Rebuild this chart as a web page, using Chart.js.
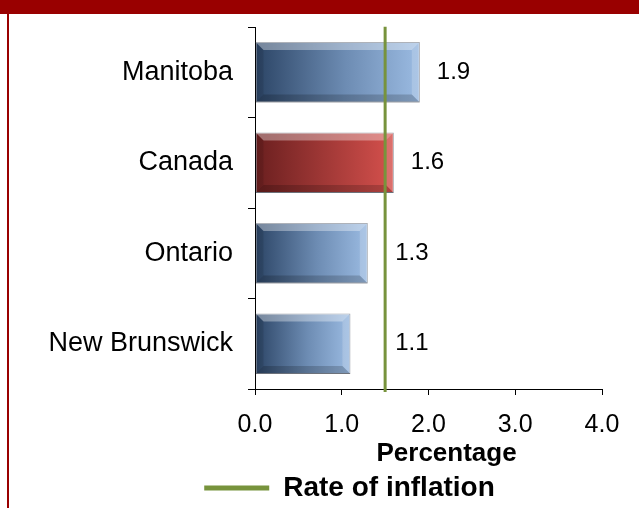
<!DOCTYPE html>
<html>
<head>
<meta charset="utf-8">
<script src="https://cdn.jsdelivr.net/npm/chart.js@4.4.0/dist/chart.umd.min.js"></script>
<style>
  html, body { margin: 0; padding: 0; background: #fff; }
  #wrap { position: relative; width: 639px; height: 508px; overflow: hidden; background: #fff; }
  #band { position: absolute; left: 0; top: 0; width: 639px; height: 14px; background: #990000; }
  #edge { position: absolute; left: 7px; top: 14px; width: 2px; height: 494px; background: #990000; }
  canvas { position: absolute; left: 0; top: 4px; }
</style>
</head>
<body>
<div id="wrap">
  <canvas id="myChart" width="639" height="508"></canvas>
  <div id="band"></div>
  <div id="edge"></div>
</div>
<script>
const provinces = ["Manitoba", "Canada", "Ontario", "New Brunswick"];
const increase = [1.9, 1.6, 1.3, 1.1];
const inflationRate = 1.5;
const xTicks = [0, 1, 2, 3, 4];
const highlight = "Canada";

Chart.defaults.font.family = "'Liberation Sans', Arial, sans-serif";
Chart.defaults.color = "#000";

// horizontal gradient from dark to light along each bar
function barFill(ctx) {
  const chart = ctx.chart;
  if (!chart.chartArea || ctx.type !== "data") return "#4f81bd";
  const xs = chart.scales.x;
  const x0 = xs.getPixelForValue(0);
  const x1 = xs.getPixelForValue(increase[ctx.dataIndex]);
  const g = chart.ctx.createLinearGradient(x0, 0, x1, 0);
  if (provinces[ctx.dataIndex] === highlight) {
    g.addColorStop(0, "#6a1f1f");
    g.addColorStop(1, "#d6514d");
  } else {
    g.addColorStop(0, "#2b4465");
    g.addColorStop(0.55, "#6d8cb3");
    g.addColorStop(1, "#9bbbe2");
  }
  return g;
}

const bevel = {
  id: "bevel",
  afterDatasetDraw(chart, args) {
    if (args.index !== 0) return;
    const c = chart.ctx;
    const b = 8;
    args.meta.data.forEach(el => {
      const { x, y, base, height } = el.getProps(["x", "y", "base", "height"], true);
      const l = base, r = x, t = y - height / 2, btm = y + height / 2;
      const poly = (pts, fill) => {
        c.beginPath();
        c.moveTo(pts[0][0], pts[0][1]);
        pts.slice(1).forEach(p => c.lineTo(p[0], p[1]));
        c.closePath();
        c.fillStyle = fill;
        c.fill();
      };
      c.save();
      poly([[l, t], [r, t], [r - b, t + b], [l + b, t + b]], "rgba(255,255,255,0.35)");
      poly([[r, t], [r, btm], [r - b, btm - b], [r - b, t + b]], "rgba(255,255,255,0.18)");
      poly([[l, btm], [r, btm], [r - b, btm - b], [l + b, btm - b]], "rgba(0,0,0,0.18)");
      poly([[l, t], [l + b, t + b], [l + b, btm - b], [l, btm]], "rgba(0,0,0,0.10)");
      c.restore();
    });
  }
};

const valueLabels = {
  id: "valueLabels",
  afterDatasetsDraw(chart) {
    const c = chart.ctx;
    const lineX = chart.scales.x.getPixelForValue(inflationRate);
    c.save();
    c.font = "24px 'Liberation Sans', Arial, sans-serif";
    c.fillStyle = "#000";
    c.textAlign = "left";
    c.textBaseline = "middle";
    chart.getDatasetMeta(0).data.forEach((el, i) => {
      const lx = el.x < lineX ? lineX + 10 : el.x + 17;
      c.fillText(increase[i].toFixed(1), lx, el.y);
    });
    c.restore();
  }
};

// let the category labels use the space left of the axis box
const wideLabels = {
  id: "wideLabels",
  afterLayout(chart) {
    chart.scales.y.left = 0;
  }
};

const data = {
  labels: provinces,
  datasets: [
    {
      label: "Increase",
      data: increase,
      backgroundColor: barFill,
      borderColor: "rgba(30,40,60,0.55)",
      borderWidth: 1,
      borderSkipped: false,
      grouped: false,
      barPercentage: 0.67,
      categoryPercentage: 1,
      xAxisID: "x",
      yAxisID: "y",
      order: 1,
    },
    {
      type: "line",
      label: "Rate of inflation",
      data: [{ x: inflationRate, y: 0 }, { x: inflationRate, y: 1 }],
      borderColor: "#77933c",
      backgroundColor: "#77933c",
      borderWidth: 3,
      pointRadius: 0,
      clip: false,
      xAxisID: "x",
      yAxisID: "y2",
      order: 0,
    },
  ],
};

const config = {
  type: "bar",
  data: data,
  options: {
    indexAxis: "y",
    responsive: false,
    animation: false,
    layout: {
      padding: { left: 97, right: 37, top: 23, bottom: 0 },
    },
    plugins: {
      tooltip: { enabled: false },
      legend: {
        display: true,
        position: "bottom",
        onClick: null,
        labels: {
          usePointStyle: true,
          pointStyle: "line",
          pointStyleWidth: 65,
          padding: 2.3,
          color: "#000",
          font: { size: 28, weight: "bold", lineHeight: 1 },
          generateLabels(chart) {
            const items = Chart.defaults.plugins.legend.labels.generateLabels(chart);
            items.forEach(it => { it.lineWidth = 5; });
            return items;
          },
          filter: item => item.datasetIndex === 1,
        },
      },
    },
    scales: {
      x: {
        type: "linear",
        min: 0,
        max: 4,
        afterBuildTicks: s => { s.ticks = xTicks.map(v => ({ value: v })); },
        afterFit: s => { s.height = 82.7; },
        ticks: {
          font: { size: 25 },
          color: "#000",
          padding: 15.5,
          callback: v => Number(v).toFixed(1),
        },
        grid: {
          drawOnChartArea: false,
          drawTicks: true,
          tickLength: 6,
          color: "#000",
        },
        border: { color: "#000", width: 1 },
        title: {
          display: true,
          text: "     Percentage",
          color: "#000",
          font: { size: 26, weight: "bold" },
          padding: { top: 0, bottom: 2.6 },
        },
      },
      y: {
        type: "category",
        afterFit: s => { s.width = 158; },
        ticks: {
          font: { size: 27, lineHeight: 0.5 },
          color: "#000",
          padding: 15,
        },
        grid: {
          offset: true,
          drawOnChartArea: false,
          drawTicks: true,
          tickLength: 7,
          color: "#000",
        },
        border: { color: "#000", width: 1 },
      },
      y2: {
        type: "linear",
        axis: "y",
        display: false,
        offset: false,
        grid: { offset: false },
        min: 0.008,
        max: 0.999,
      },
    },
  },
  plugins: [bevel, valueLabels, wideLabels],
};

document.addEventListener("DOMContentLoaded", () => {
  const ctx = document.getElementById("myChart").getContext("2d");
  new Chart(ctx, config);
});
</script>
</body>
</html>
